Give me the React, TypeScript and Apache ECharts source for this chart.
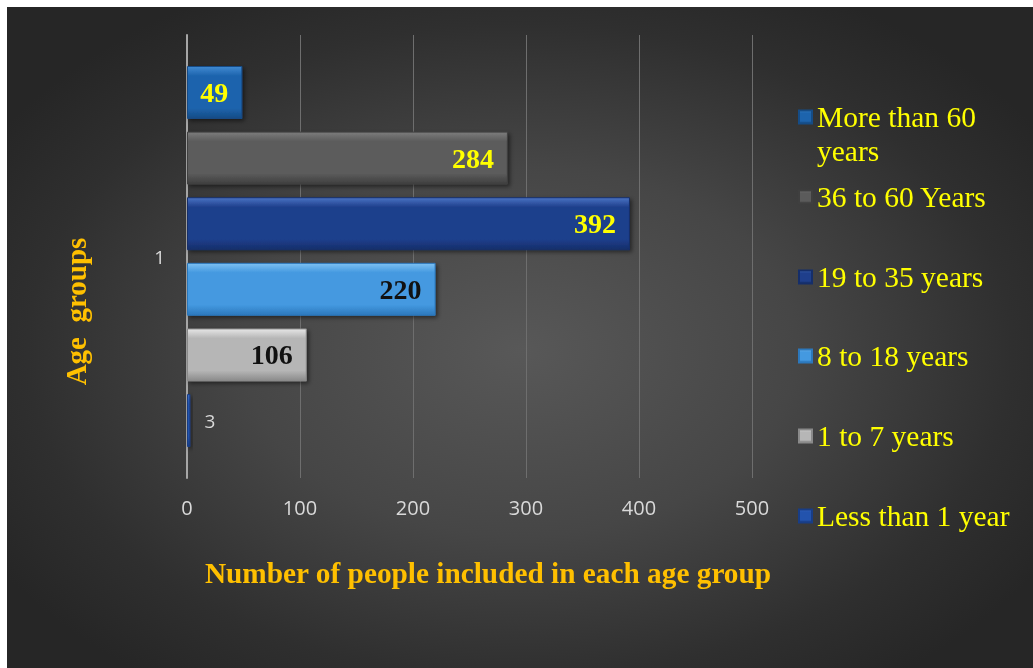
import React, { useEffect, useRef } from "react";
import * as echarts from "echarts";

const categories = ["1"];
const seriesNames = [
  "More than 60 years",
  "36 to 60 Years",
  "19 to 35 years",
  "8 to 18 years",
  "1 to 7 years",
  "Less than 1 year",
];
const values = [49, 284, 392, 220, 106, 3];
const xTicks = { min: 0, max: 500, interval: 100 };

// [top highlight, base, bottom shade]
const palettes = [
  ["#3f8ad2", "#1d64ad", "#154c86"],
  ["#7c7c7c", "#5b5b5b", "#3f3f3f"],
  ["#4a74c4", "#1f3f8c", "#152e6a"],
  ["#7cc0f2", "#4499e0", "#2c78bc"],
  ["#e6e6e6", "#b6b6b6", "#8a8a8a"],
  ["#3a6cc4", "#2353ad", "#183d86"],
];
const labelColors = ["#ffff00", "#ffff00", "#ffff00", "#111111", "#111111", "#d9d9d9"];
const legendCenters = [110, 190, 270, 349, 429, 509];

export default function App() {
  const ref = useRef<HTMLDivElement>(null);
  useEffect(() => {
    if (!ref.current) return;
    const chart = echarts.init(ref.current, undefined, { renderer: "svg" });
    const grad = (p: string[]) =>
      new echarts.graphic.LinearGradient(0, 0, 0, 1, [
        { offset: 0, color: p[0] },
        { offset: 0.18, color: p[1] },
        { offset: 0.8, color: p[1] },
        { offset: 1, color: p[2] },
      ]);
    const series = seriesNames.map((name, i) => {
      const small = i === seriesNames.length - 1;
      return {
        type: "bar",
        name,
        data: [values[i]],
        barGap: "24%",
        barCategoryGap: "14%",
        itemStyle: {
          color: grad(palettes[i]),
          borderColor: palettes[i][2],
          borderWidth: 1,
          shadowColor: "rgba(0,0,0,0.5)",
          shadowBlur: 4,
          shadowOffsetX: 2,
          shadowOffsetY: 2,
        },
        label: small
          ? {
              show: true,
              position: "right",
              distance: 14,
              color: labelColors[i],
              fontFamily: "Open Sans",
              fontSize: 19,
            }
          : {
              show: true,
              position: "insideRight",
              distance: 14,
              color: labelColors[i],
              fontFamily: "Liberation Serif",
              fontWeight: "bold",
              fontSize: 28,
            },
      };
    });
    const legends = seriesNames.map((name, i) => {
      const first = i === 0;
      return {
        data: [name],
        orient: "vertical",
        left: 791,
        top: first ? legendCenters[i] - 51 : legendCenters[i] - 17,
        padding: 0,
        itemWidth: 13,
        itemHeight: 13,
        itemGap: 0,
        icon: "rect",
        selectedMode: false,
        formatter: first ? () => " \nMore than 60\nyears" : undefined,
        textStyle: {
          color: "#ffff00",
          fontFamily: "Liberation Serif",
          fontSize: 29.5,
          lineHeight: 34,
        },
      };
    });
    chart.setOption({
      animation: false,
      backgroundColor: "transparent",
      grid: { left: 180, right: 281, top: 28, bottom: 190 },
      legend: legends,
      xAxis: {
        type: "value",
        min: xTicks.min,
        max: xTicks.max,
        interval: xTicks.interval,
        name: "Number of people included in each age group",
        nameLocation: "middle",
        nameGap: 80,
        nameTextStyle: {
          color: "#ffc000",
          fontFamily: "Liberation Serif",
          fontWeight: "bold",
          fontSize: 29.3,
          padding: [0, 0, 0, 37],
        },
        axisLine: { show: false },
        axisTick: { show: false },
        axisLabel: {
          color: "#d9d9d9",
          fontFamily: "Open Sans",
          fontSize: 20,
          margin: 19,
        },
        splitLine: { show: true, lineStyle: { color: "#6e6e6e", width: 1 } },
      },
      yAxis: {
        type: "category",
        data: categories,
        name: "Age  groups",
        nameLocation: "middle",
        nameGap: 97,
        nameTextStyle: {
          color: "#ffc000",
          fontFamily: "Liberation Serif",
          fontWeight: "bold",
          fontSize: 29,
          padding: [0, 110, 0, 0],
        },
        axisLine: { show: true, lineStyle: { color: "#a6a6a6", width: 2 } },
        axisTick: { show: false },
        axisLabel: {
          color: "#d9d9d9",
          fontFamily: "Open Sans",
          fontSize: 19,
          margin: 22,
        },
      },
      series,
    });
    return () => chart.dispose();
  }, []);
  return (
    <div
      ref={ref}
      style={{
        position: "fixed",
        left: 7,
        top: 7,
        width: 1026,
        height: 661,
        background:
          "radial-gradient(ellipse 60% 62% at 50% 52%, #585858 0%, #464646 45%, #2f2f2f 80%, #262626 100%)",
      }}
    />
  );
}
